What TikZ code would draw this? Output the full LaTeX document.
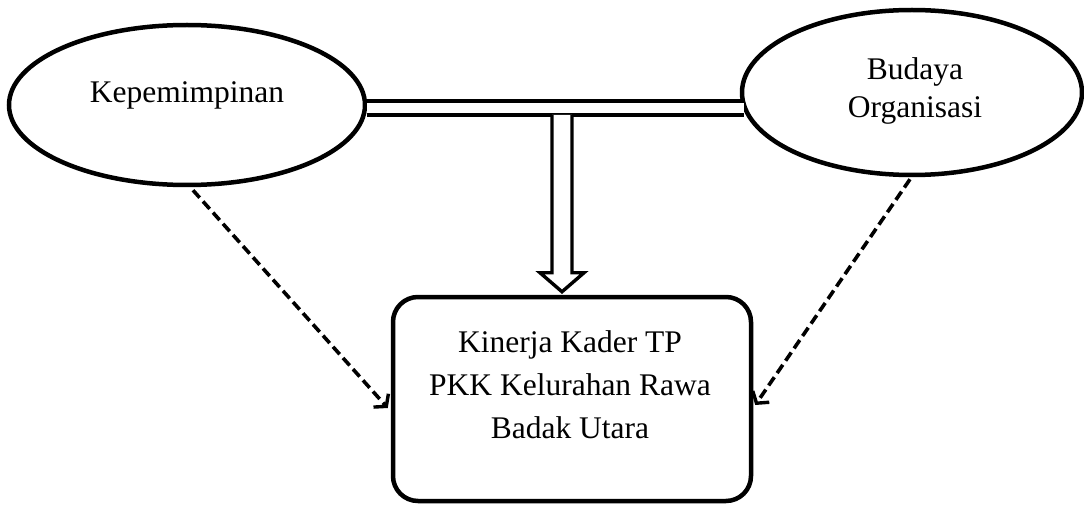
\documentclass[tikz,border=0pt]{standalone}
\usepackage{fontspec}
\setmainfont{Liberation Serif}
\usetikzlibrary{arrows.meta,shapes.geometric,calc}
\begin{document}
\begin{tikzpicture}[x=1pt,y=-1pt,
  oval/.style={draw,ellipse,line width=4.5pt,inner sep=0pt},
  label/.style={font=\fontsize{31.5}{38}\selectfont,align=center,inner sep=0pt,anchor=base},
  resultbox/.style={draw,rounded corners=25pt,line width=4.5pt,inner sep=0pt},
  dasharrow/.style={line width=3.6pt,dash pattern=on 10pt off 5pt,
    -{Straight Barb[length=8pt,width=20pt,line width=3.4pt]}},
  bar/.style={line width=3.4pt,double distance=10.6pt},
  bigarrow/.style={line width=3.4pt,fill=white,line join=miter}]
\useasboundingbox (0,0) rectangle (1084,505);
\node[oval,minimum width=356pt,minimum height=160pt] (kep) at (187,105) {};
\node[oval,minimum width=340pt,minimum height=165pt] (bud) at (912,92.5) {};
\node[resultbox,minimum width=358pt,minimum height=204pt] (kin) at (572,399) {};
\node[label] (kept) at (187,103) {Kepemimpinan};
\node[label] (budt1) at (915,80) {Budaya};
\node[label] (budt2) at (915,118) {Organisasi};
\node[label] (kint1) at (570,352) {Kinerja Kader TP};
\node[label] (kint2) at (570,395) {PKK Kelurahan Rawa};
\node[label] (kint3) at (570,438) {Badak Utara};
\coordinate (barL) at (kep.east |- 0,108);
\coordinate (barR) at ($(bud.west |- 0,108)+(4,0)$);
\draw[bar] (barL) -- (barR);
\coordinate (tip) at ($(kin.north)+(-10,-3)$);
\coordinate (stem) at (tip |- 0,115);
\draw[bigarrow] ($(stem)+(-10,0)$) -- ($(tip)+(-10,-19)$) -- ($(tip)+(-22,-19)$)
  -- (tip) -- ($(tip)+(22,-19)$) -- ($(tip)+(10,-19)$) -- ($(stem)+(10,0)$);
\draw[dasharrow] (kep.south) ++(6,3) coordinate (ks) (ks) -- ($(kin.west)+(-3,9)$);
\draw[dasharrow] (bud.south) ++(-2,2) coordinate (bs) (bs) -- ($(kin.east)+(2,6)$);
\end{tikzpicture}
\end{document}
